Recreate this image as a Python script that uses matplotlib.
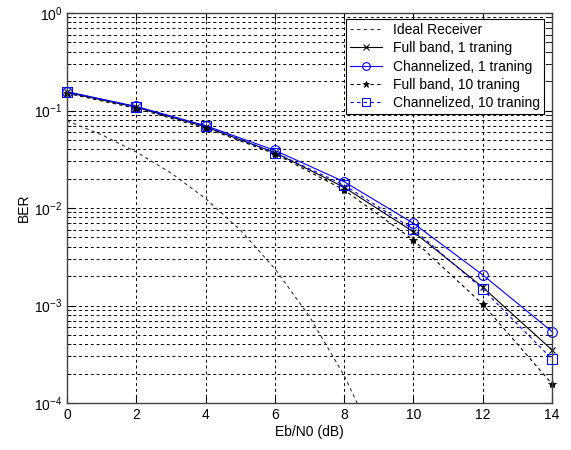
import matplotlib
matplotlib.use("Agg")
import matplotlib.pyplot as plt
from matplotlib.ticker import LogLocator, NullFormatter, FixedLocator

plt.rcParams['font.family'] = ['Liberation Sans', 'DejaVu Sans']

# Data
snr_ideal = [0, 1, 2, 3, 4, 5, 6, 7, 8, 9]
ber_ideal = [0.0786, 0.0563, 0.0375, 0.0229, 0.0125, 0.00595, 0.00239, 0.00077, 0.000191, 3.4e-5]

snr = [0, 2, 4, 6, 8, 10, 12, 14]
ber_full1 = [0.153, 0.108, 0.068, 0.037, 0.0163, 0.0057, 0.00154, 0.00035]
ber_chan1 = [0.156, 0.110, 0.070, 0.039, 0.0186, 0.00697, 0.00206, 0.00054]
ber_full10 = [0.150, 0.105, 0.066, 0.036, 0.0153, 0.0047, 0.00103, 0.000157]
ber_chan10 = [0.155, 0.109, 0.069, 0.037, 0.0172, 0.00605, 0.00147, 0.000283]

labels = ['Ideal Receiver', 'Full band, 1 traning', 'Channelized, 1 traning',
          'Full band, 10 traning', 'Channelized, 10 traning']
xticks = [0, 2, 4, 6, 8, 10, 12, 14]

fig = plt.figure(figsize=(5.71, 4.5), dpi=100)
ax = fig.add_axes([67/571, 47/450, 485/571, 390/450])

lw = 0.8
ax.semilogy(snr_ideal, ber_ideal, linestyle=(0, (3, 3)), color='#333333', lw=lw, label=labels[0])
ax.semilogy(snr, ber_full1, '-', color='black', marker='x', ms=5, mew=0.8, lw=lw,
            label=labels[1], clip_on=False)
ax.semilogy(snr, ber_chan1, '-', color='blue', marker='o', ms=7, mfc='none', mew=0.8, lw=lw,
            label=labels[2], clip_on=False)
ax.semilogy(snr, ber_full10, linestyle=(0, (3, 3)), color='black', marker='*', ms=6, mew=0.6, lw=lw,
            label=labels[3], clip_on=False)
ax.semilogy(snr, ber_chan10, linestyle=(0, (3, 3)), color='blue', marker='s', ms=7, mfc='none', mew=0.8, lw=lw,
            label=labels[4], clip_on=False)

ax.set_xlim(0, 14)
ax.set_ylim(1e-4, 1)
ax.xaxis.set_major_locator(FixedLocator(xticks))
ax.set_xticklabels([str(t) for t in xticks])
ax.yaxis.set_major_locator(LogLocator(base=10, numticks=10))
ax.yaxis.set_minor_locator(LogLocator(base=10, subs=range(2, 10), numticks=20))
ax.yaxis.set_minor_formatter(NullFormatter())

ax.grid(True, which='major', axis='both', color='black', linestyle=(0, (3, 3)), lw=0.7)
ax.grid(True, which='minor', axis='y', color='black', linestyle=(0, (3, 3)), lw=0.7)

ax.tick_params(which='both', direction='in', top=True, right=True, labelsize=10, color='black')
ax.tick_params(which='major', length=5)
ax.tick_params(which='minor', length=3)
for s in ax.spines.values():
    s.set_color('#404040')
    s.set_linewidth(1.0)

ax.set_xlabel('Eb/N0 (dB)', fontsize=10, labelpad=2)
ax.set_ylabel('BER', fontsize=10, labelpad=2)

leg = ax.legend(loc='upper right', bbox_to_anchor=(544/571, 431/450), bbox_transform=fig.transFigure,
                fontsize=10, frameon=True, fancybox=False, edgecolor='black', framealpha=1,
                handlelength=2.3, handletextpad=0.8, labelspacing=0.3, borderpad=0.3, borderaxespad=0,
                markerscale=0.8)
leg.get_frame().set_linewidth(0.8)
leg.set_zorder(5)

fig.savefig('out.png', dpi=100)
